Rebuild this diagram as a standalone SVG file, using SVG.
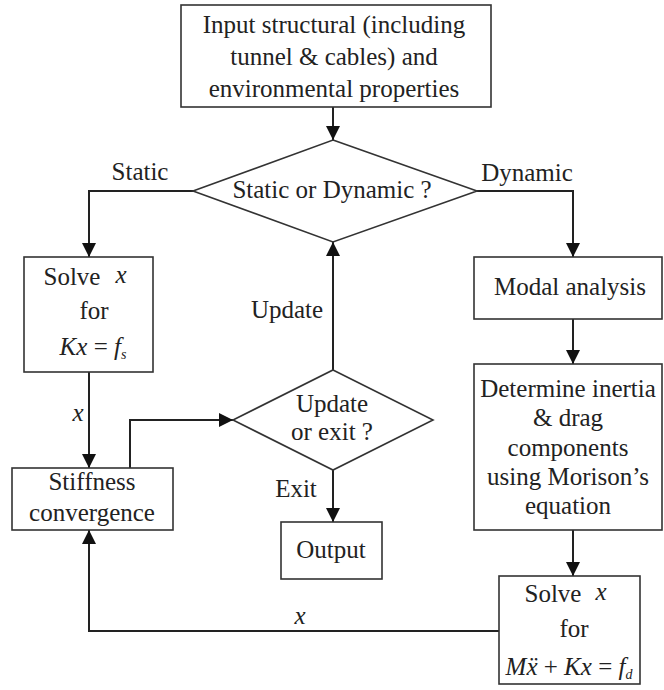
<svg xmlns="http://www.w3.org/2000/svg" width="664" height="690" viewBox="0 0 664 690">
<style>
.box{fill:#fff;stroke:#333;stroke-width:1.6}
.t{font-family:"Liberation Serif","Times New Roman",serif;font-size:25px;fill:#222;text-anchor:middle}
.m{font-style:italic}
.c{fill:none;stroke:#222;stroke-width:2}
</style>
<defs>
<marker id="ah" markerUnits="userSpaceOnUse" markerWidth="14" markerHeight="14" refX="14" refY="7" orient="auto">
<path d="M0,0 L14,7 L0,14 z" fill="#111"/>
</marker>
</defs>
<rect width="664" height="690" fill="#fff"/>
<g id="connectors">
<path class="c" d="M333,107 V140" marker-end="url(#ah)"/>
<path class="c" d="M193,191 H89 V257" marker-end="url(#ah)"/>
<path class="c" d="M477,191 H573 V257" marker-end="url(#ah)"/>
<path class="c" d="M573,319 V364" marker-end="url(#ah)"/>
<path class="c" d="M573,530 V576" marker-end="url(#ah)"/>
<path class="c" d="M89,372 V468" marker-end="url(#ah)"/>
<path class="c" d="M130,468 V420 H233" marker-end="url(#ah)"/>
<path class="c" d="M333,370 V242" marker-end="url(#ah)"/>
<path class="c" d="M333,470 V522" marker-end="url(#ah)"/>
<path class="c" d="M499,631 H89 V530" marker-end="url(#ah)"/>
<text class="t" x="140" y="180">Static</text>
<text class="t" x="527" y="181">Dynamic</text>
<text class="t" x="287" y="318">Update</text>
<text class="t" x="296" y="497">Exit</text>
<text class="t m" x="78" y="421">x</text>
<text class="t m" x="300" y="624">x</text>
</g>
<g id="input">
<rect class="box" x="181" y="5" width="310" height="102"/>
<text class="t" x="334" y="33">Input structural (including</text>
<text class="t" x="334" y="65">tunnel &amp; cables) and</text>
<text class="t" x="334" y="97">environmental properties</text>
</g>
<g id="static-or-dynamic">
<polygon class="box" points="333,140 477,191 333,242 193,191"/>
<text class="t" x="332" y="198">Static or Dynamic ?</text>
</g>
<g id="solve-static">
<rect class="box" x="24" y="257" width="129" height="115"/>
<text class="t" x="72" y="285">Solve</text>
<text class="t m" x="121" y="283" font-size="23">x</text>
<text class="t" x="94" y="319">for</text>
<text class="t" x="93" y="355"><tspan class="m">Kx</tspan> = <tspan class="m">f</tspan><tspan class="m" font-size="14" dy="4">s</tspan></text>
</g>
<g id="stiffness">
<rect class="box" x="12" y="468" width="161" height="62"/>
<text class="t" x="92" y="490">Stiffness</text>
<text class="t" x="92" y="521">convergence</text>
</g>
<g id="update-or-exit">
<polygon class="box" points="333,370 433,420 333,470 233,420"/>
<text class="t" x="332" y="412">Update</text>
<text class="t" x="332" y="440">or exit ?</text>
</g>
<g id="output">
<rect class="box" x="281" y="522" width="101" height="57"/>
<text class="t" x="331" y="558">Output</text>
</g>
<g id="modal">
<rect class="box" x="474" y="257" width="188" height="62"/>
<text class="t" x="570" y="295">Modal analysis</text>
</g>
<g id="morison">
<rect class="box" x="474" y="364" width="188" height="166"/>
<text class="t" x="568" y="397">Determine inertia</text>
<text class="t" x="568" y="426">&amp; drag</text>
<text class="t" x="568" y="456">components</text>
<text class="t" x="568" y="485">using Morison’s</text>
<text class="t" x="568" y="514">equation</text>
</g>
<g id="solve-dynamic">
<rect class="box" x="499" y="576" width="141" height="108"/>
<text class="t" x="553" y="602">Solve</text>
<text class="t m" x="601" y="600" font-size="23">x</text>
<text class="t" x="574" y="637">for</text>
<text class="t" x="569" y="675"><tspan class="m">Mẍ</tspan> + <tspan class="m">Kx</tspan> = <tspan class="m">f</tspan><tspan class="m" font-size="14" dy="4">d</tspan></text>
</g>
</svg>
